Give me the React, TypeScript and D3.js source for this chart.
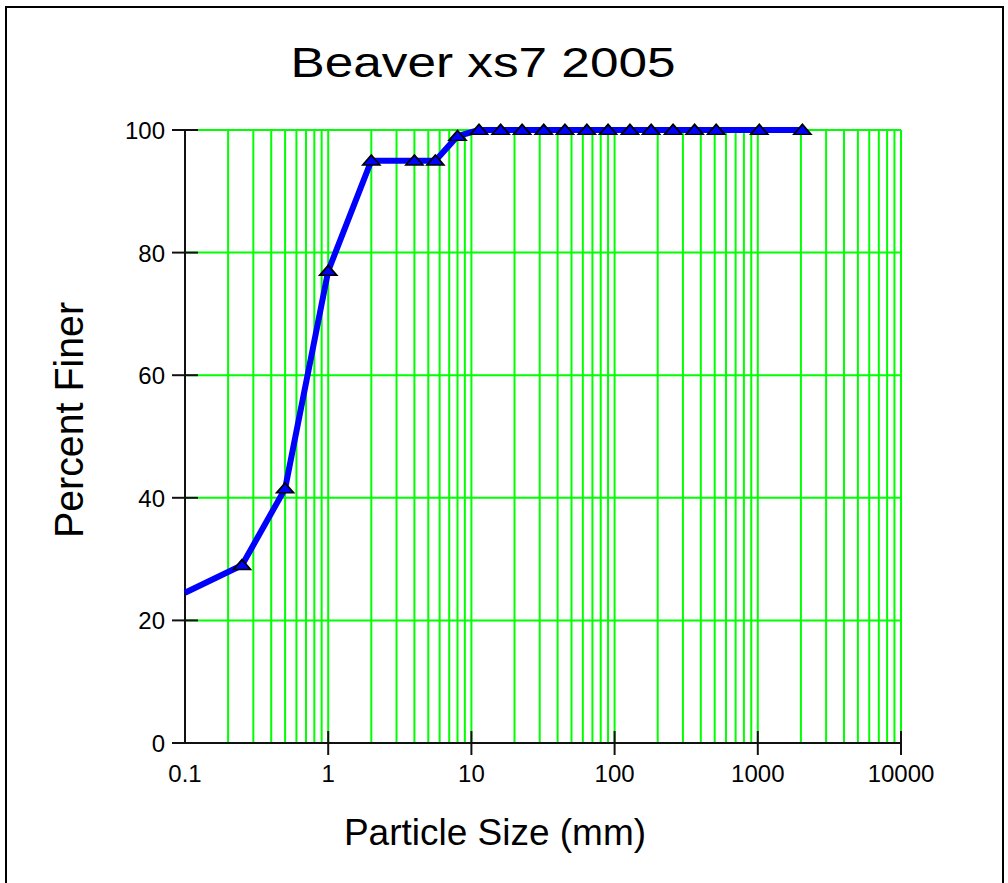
/** Grain size distribution — Beaver xs7 2005, percent finer vs particle size (log). */

import * as d3 from "d3";

const sizesMm = [0.1, 0.25, 0.5, 1, 2, 4, 5.6, 8, 11.3, 16, 22.6, 32, 45, 64, 90, 128, 180, 256, 362, 512, 1024, 2048];
const percentFiner = [24.5, 29, 41.5, 77, 95, 95, 95, 99, 100, 100, 100, 100, 100, 100, 100, 100, 100, 100, 100, 100, 100, 100];
// first point is where the curve enters the plot edge, no marker drawn there
const markerFrom = 1;

const xTickValues = [0.1, 1, 10, 100, 1000, 10000];
const xTickLabels = ["0.1", "1", "10", "100", "1000", "10000"];
const yTickValues = [0, 20, 40, 60, 80, 100];

const FONT = "'Liberation Sans', Arial, sans-serif";

export default function App() {
  const width = 1008;
  const height = 883;
  const plot = { left: 185, right: 901, top: 130, bottom: 743 };

  const x = d3.scaleLog().domain([0.1, 10000]).range([plot.left, plot.right]);
  const y = d3.scaleLinear().domain([0, 100]).range([plot.bottom, plot.top]);

  // every 1..9 multiple in each decade
  const gridX: number[] = [];
  for (let dec = 0.1; dec < 10000; dec *= 10) {
    for (let m = 1; m <= 9; m++) gridX.push(+(dec * m).toPrecision(3));
  }
  gridX.push(10000);

  const points = sizesMm.map((s, i) => ({ s, p: percentFiner[i] }));
  const line = d3
    .line<{ s: number; p: number }>()
    .x((d) => x(d.s))
    .y((d) => y(d.p));

  const tri = d3.symbol().type(d3.symbolTriangle).size(70);

  return (
    <div style={{ position: "absolute", left: 0, top: 0 }}>
      <svg width={width} height={height} style={{ display: "block", background: "#fff" }}>
        {/* outer frame */}
        <rect x={6} y={7} width={997} height={900} fill="none" stroke="#000" strokeWidth={2} />

        <text
          x={483}
          y={77}
          fontFamily={FONT}
          fontSize={43}
          textAnchor="middle"
          textLength={385}
          lengthAdjust="spacingAndGlyphs"
        >
          Beaver xs7 2005
        </text>

        {/* green grid */}
        <g stroke="#00ff00" strokeWidth={2}>
          {gridX.map((v) => (
            <line key={"gx" + v} x1={x(v)} x2={x(v)} y1={plot.top} y2={plot.bottom} />
          ))}
          {yTickValues
            .filter((v) => v > 0)
            .map((v) => (
              <line key={"gy" + v} x1={plot.left} x2={plot.right} y1={y(v)} y2={y(v)} />
            ))}
        </g>

        {/* axes */}
        <g stroke="#111" strokeWidth={2}>
          <line x1={plot.left} x2={plot.left} y1={plot.top} y2={plot.bottom} />
          <line x1={plot.left} x2={plot.right} y1={plot.bottom} y2={plot.bottom} />
          {yTickValues.map((v) => (
            <line key={"ty" + v} x1={172} x2={198} y1={y(v)} y2={y(v)} />
          ))}
          {xTickValues.slice(1).map((v) => (
            <line key={"tx" + v} x1={x(v)} x2={x(v)} y1={731} y2={755} />
          ))}
        </g>

        {/* tick labels */}
        <g fontFamily={FONT} fontSize={24} fill="#000">
          {yTickValues.map((v) => (
            <text key={"ly" + v} x={165} y={y(v) + 9} textAnchor="end">
              {v}
            </text>
          ))}
          {xTickValues.map((v, i) => (
            <text key={"lx" + v} x={x(v)} y={782} textAnchor="middle">
              {xTickLabels[i]}
            </text>
          ))}
        </g>

        {/* axis titles */}
        <text x={495} y={845} fontFamily={FONT} fontSize={37} textAnchor="middle">
          Particle Size (mm)
        </text>
        <text
          transform="translate(83,420) rotate(-90)"
          fontFamily={FONT}
          fontSize={40}
          textAnchor="middle"
          textLength={236}
          lengthAdjust="spacingAndGlyphs"
        >
          Percent Finer
        </text>

        {/* data */}
        <path
          d={line(points) ?? ""}
          fill="none"
          stroke="#0000ff"
          strokeWidth={6}
          strokeLinejoin="round"
        />
        {points.slice(markerFrom).map((d) => (
          <path
            key={"m" + d.s}
            d={tri() ?? ""}
            transform={`translate(${x(d.s)},${y(d.p) + 1}) scale(1.35,0.9)`}
            fill="#0000ff"
            stroke="#000"
            strokeWidth={1.5}
          />
        ))}
      </svg>
    </div>
  );
}
